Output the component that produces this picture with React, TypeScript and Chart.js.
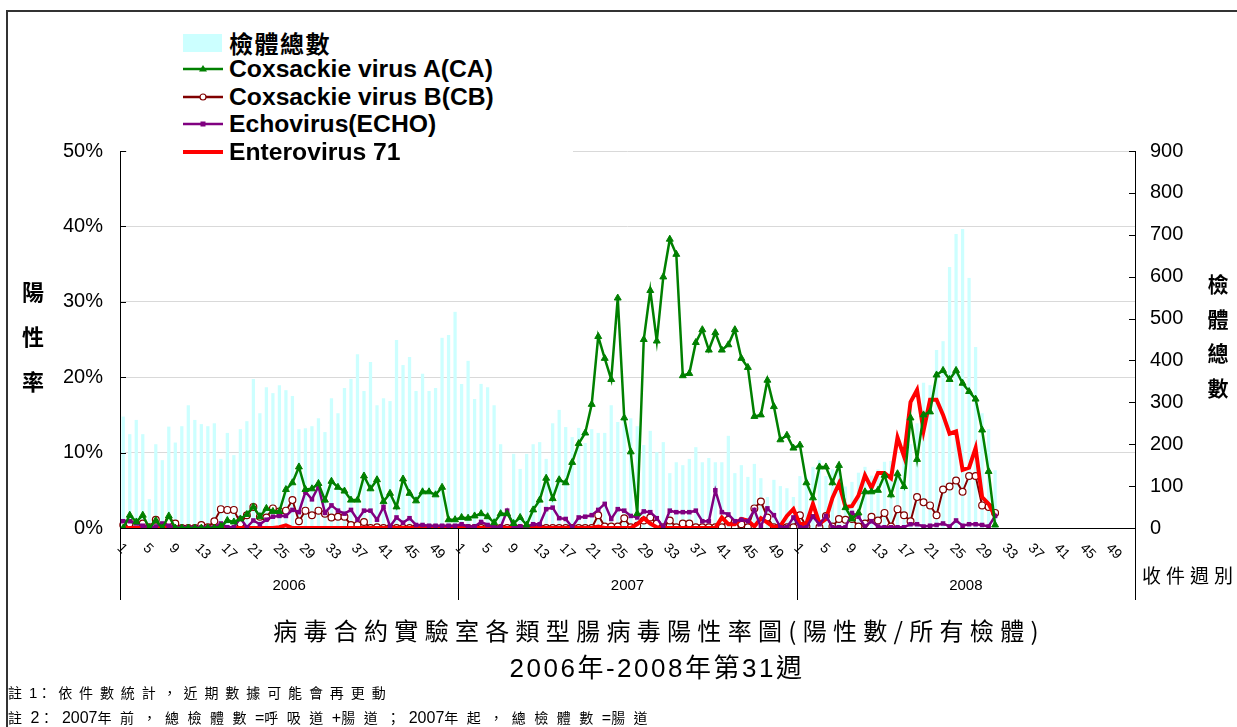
import React, { useEffect, useRef } from "react";
import { Chart, registerables } from "chart.js";

Chart.register(...registerables);

const YEARS = ["2006", "2007", "2008"];
const WEEKS_PER_YEAR = 52;
const WEEK_TICK_LABELS = ["1", "5", "9", "13", "17", "21", "25", "29", "33", "37", "41", "45", "49"];
const LEFT_TICKS = [0, 10, 20, 30, 40, 50];
const RIGHT_TICKS = [0, 100, 200, 300, 400, 500, 600, 700, 800, 900];

// 檢體總數 (specimens per week)
const TOTAL_2006 = [266, 224, 258, 224, 69, 200, 162, 242, 204, 243, 293, 258, 248, 243, 250, 165, 227, 174, 236, 255, 356, 274, 336, 322, 341, 329, 315, 236, 238, 243, 262, 229, 310, 274, 334, 356, 415, 327, 396, 293, 310, 303, 449, 389, 408, 327, 368, 327, 334, 454, 461, 516];
const TOTAL_2007 = [344, 399, 308, 344, 336, 293, 200, 0, 177, 141, 177, 200, 205, 165, 250, 282, 241, 217, 239, 203, 236, 227, 227, 293, 253, 262, 262, 243, 198, 232, 181, 205, 131, 157, 150, 165, 193, 157, 167, 157, 157, 220, 131, 150, 122, 153, 119, 74, 115, 100, 95, 74];
const TOTAL_2008 = [124, 120, 146, 162, 124, 140, 150, 99, 110, 132, 146, 125, 140, 158, 160, 131, 180, 200, 250, 347, 341, 425, 446, 623, 702, 714, 597, 432, 274, 236, 138];

// Coxsackie virus A (%)
const CA_2006 = [0, 1.7, 0.8, 1.7, 0, 1.0, 0, 1.6, 0, 0, 0, 0, 0, 0, 0, 0.2, 1.0, 0.8, 1.2, 1.8, 2.8, 1.5, 2.6, 2.2, 2.2, 5.1, 6.0, 8.1, 5.1, 5.2, 5.9, 3.7, 6.2, 5.4, 4.9, 3.7, 3.7, 6.9, 5.2, 6.4, 3.5, 4.6, 2.8, 6.5, 4.6, 3.6, 4.8, 4.8, 4.4, 5.4, 1.1, 1.1];
const CA_2007 = [1.4, 1.3, 1.6, 1.9, 1.5, 0.7, 1.9, 1.9, 0.6, 1.4, 0.4, 2.4, 3.7, 6.6, 3.9, 6.4, 6.0, 8.7, 11.2, 12.6, 16.4, 25.4, 22.5, 19.7, 30.5, 14.6, 10.1, 1.9, 25.0, 31.5, 24.8, 33.3, 38.3, 36.3, 20.2, 20.5, 24.6, 26.3, 23.6, 25.9, 23.6, 24.3, 26.3, 22.5, 21.3, 14.8, 15.0, 19.6, 16.1, 11.7, 12.3, 10.6];
const CA_2008 = [11.0, 6.0, 4.0, 8.1, 8.1, 6.0, 8.3, 2.7, 1.2, 2.0, 4.8, 4.8, 5.0, 7.0, 4.4, 7.2, 5.5, 14.6, 9.1, 15.0, 15.4, 20.3, 20.9, 19.7, 20.9, 19.2, 18.1, 17.1, 13.0, 7.5, 0.4];

// Coxsackie virus B (%)
const CB_2006 = [0.4, 0.6, 0.4, 0.6, 0.1, 1.1, 0, 0.9, 0.6, 0, 0, 0, 0.4, 0.1, 0.9, 2.5, 2.4, 2.4, 0.6, 1.7, 2.8, 1.5, 1.4, 2.6, 2.2, 2.3, 3.7, 0.9, 2.3, 1.7, 2.3, 1.9, 1.4, 1.5, 1.5, 0.4, 0.4, 0.8, 0, 0.1, 0, 0, 0, 0, 0, 0, 0, 0, 0, 0, 0, 0];
const CB_2007 = [0, 0, 0, 0, 0, 0, 0, 0, 0, 0, 0, 0, 0, 0, 0, 0, 0, 0, 0, 0, 0, 1.7, 0.2, 0.2, 0.2, 1.3, 0.1, 0.3, 1.0, 1.4, 0.6, 0.1, 1.0, 0.1, 0.6, 0.6, 0.1, 0.1, 0.1, 0.1, 0.1, 1.1, 0.1, 0.5, 0.1, 2.6, 3.5, 1.4, 0.1, 0.1, 0.1, 0.1];
const CB_2008 = [1.7, 0.2, 2.2, 0.1, 1.6, 0.2, 1.2, 1.1, 1.2, 0.2, 0.6, 1.5, 1.0, 2.0, 0.2, 2.5, 1.7, 0.9, 4.1, 3.4, 3.0, 1.7, 5.1, 5.5, 6.3, 4.8, 6.9, 6.9, 3.0, 2.8, 2.0];

// Echovirus (%)
const ECHO_2006 = [0.9, 0.9, 0.6, 0.3, 0.1, 0.2, 0.6, 0.3, 0.1, 0.1, 0.1, 0.1, 0.1, 0.1, 0.1, 0.6, 0.1, 0.1, 1.3, 0.1, 1.0, 0.5, 1.1, 1.5, 1.6, 1.6, 2.4, 2.1, 4.8, 3.8, 5.5, 2.0, 3.0, 2.3, 1.9, 2.4, 1.1, 2.3, 2.3, 1.1, 2.8, 0.2, 1.4, 0.7, 1.3, 0.4, 0.4, 0.3, 0.3, 0.3, 0.3, 0.3];
const ECHO_2007 = [0.5, 0.2, 0.2, 0.8, 0.4, 0.1, 0.1, 2.3, 0.1, 0.2, 0.2, 0.5, 0.5, 2.5, 2.7, 1.3, 1.2, 0.1, 1.4, 1.5, 1.7, 2.4, 3.2, 1.2, 2.5, 2.3, 1.6, 1.4, 2.2, 2.1, 1.3, 0.1, 2.3, 2.1, 2.1, 2.1, 2.3, 0.9, 0.9, 5.0, 2.1, 1.8, 0.9, 1.1, 0.9, 2.4, 0.1, 2.6, 1.7, 0.1, 0.1, 1.4];
const ECHO_2008 = [0.1, 0.1, 1.5, 0.5, 1.6, 0.1, 0.1, 0.1, 2.0, 1.5, 0.2, 0.9, 0.2, 0.1, 0.1, 0.1, 0.1, 0.5, 0.5, 0.2, 0.3, 0.4, 0.6, 0.2, 1.0, 0.3, 0.5, 0.5, 0.4, 0.2, 1.6];

// Enterovirus 71 (%)
const EV71_2006 = [0, 0, 0, 0, 0, 0, 0, 0, 0, 0, 0, 0, 0, 0, 0, 0, 0, 0, 0, 0, 0, 0, 0, 0, 0.1, 0.35, 0, 0, 0, 0, 0, 0, 0, 0, 0, 0, 0, 0, 0, 0, 0, 0, 0, 0, 0, 0, 0, 0, 0, 0, 0, 0];
const EV71_2007 = [0, 0, 0, 0, 0, 0, 0, 0, 0, 0, 0, 0, 0, 0, 0, 0, 0, 0, 0, 0, 0, 0.2, 0, 0, 0, 0, 0, 0.5, 1.3, 0.6, 0.1, 0, 0, 0, 0, 0, 0, 0, 0, 0, 1.4, 0.5, 0.5, 1.2, 1.0, 0.2, 1.3, 0.7, 0.1, 0.3, 1.6, 2.5];
const EV71_2008 = [0.5, 0.6, 3.2, 0.6, 1.2, 4.0, 5.9, 2.8, 2.9, 4.3, 7.0, 5.3, 7.3, 7.3, 6.6, 12.0, 9.5, 16.7, 18.3, 12.9, 17.0, 17.0, 15.0, 12.5, 12.8, 7.7, 8.0, 10.6, 4.1, 3.2, 1.5];

const C = {
  bar: "#CCFFFF",
  ca: "#008000",
  cb: "#800000",
  echo: "#800080",
  ev71: "#FF0000",
};

const LATIN = '"Liberation Sans", Arial, sans-serif';
const CJK = '"Noto Sans CJK TC", "Noto Sans CJK SC", sans-serif';

function padYear(arr: number[]): (number | null)[] {
  const out: (number | null)[] = arr.slice();
  while (out.length < WEEKS_PER_YEAR) out.push(null);
  return out;
}

function mixed(text: string, cjkSize: number, cjkSpacing: number, latinSize: number, latinSpacing = 0) {
  return text
    .split(/([\x20-\x7E]+)/)
    .filter((p) => p.length > 0)
    .map((part, i) =>
      /^[\x20-\x7E]+$/.test(part) ? (
        <span key={i} style={{ fontFamily: LATIN, fontSize: latinSize, letterSpacing: latinSpacing }}>
          {part}
        </span>
      ) : (
        <span key={i} style={{ fontFamily: CJK, fontSize: cjkSize, letterSpacing: cjkSpacing }}>
          {part}
        </span>
      )
    );
}

export default function App() {
  const ref = useRef<HTMLCanvasElement>(null);

  useEffect(() => {
    if (!ref.current) return;
    const labels: string[] = [];
    YEARS.forEach((y) => {
      for (let w = 1; w <= WEEKS_PER_YEAR; w++) labels.push(`${y}-${w}`);
    });
    const join = (a: number[], b: number[], c: number[]) => [...padYear(a), ...padYear(b), ...padYear(c)];

    const axisPlugin = {
      id: "customAxes",
      afterDraw(chart: any) {
        const { ctx, chartArea } = chart;
        const { left, right, top, bottom } = chartArea;
        const n = labels.length;
        const cw = (right - left) / n;
        const yS = chart.scales.y;
        const y1S = chart.scales.y1;
        const boxBottom = 600;
        ctx.save();
        ctx.strokeStyle = "#000";
        ctx.lineWidth = 1;
        const line = (x1: number, y1: number, x2: number, y2: number) => {
          ctx.beginPath();
          ctx.moveTo(x1, y1);
          ctx.lineTo(x2, y2);
          ctx.stroke();
        };
        line(left, bottom + 0.5, right, bottom + 0.5);
        line(left + 0.5, top, left + 0.5, boxBottom);
        line(right + 0.5, top, right + 0.5, boxBottom);
        for (let k = 1; k < YEARS.length; k++) {
          const xs = Math.round(left + k * WEEKS_PER_YEAR * cw) + 0.5;
          line(xs, bottom, xs, boxBottom);
        }
        LEFT_TICKS.forEach((v) => {
          const y = Math.round(yS.getPixelForValue(v)) + 0.5;
          line(left, y, left + 6, y);
        });
        RIGHT_TICKS.forEach((v) => {
          const y = Math.round(y1S.getPixelForValue(v)) + 0.5;
          line(right - 6, y, right, y);
        });
        ctx.fillStyle = "#000";
        ctx.font = `14px ${LATIN}`;
        ctx.textAlign = "left";
        ctx.textBaseline = "middle";
        YEARS.forEach((_, yi) => {
          WEEK_TICK_LABELS.forEach((lab) => {
            const w = parseInt(lab, 10);
            const idx = yi * WEEKS_PER_YEAR + (w - 1);
            const cx = left + (idx + 0.5) * cw;
            ctx.save();
            ctx.translate(cx - 4, bottom + 18);
            ctx.rotate(Math.PI / 4);
            ctx.fillText(lab, 0, 0);
            ctx.restore();
          });
        });
        ctx.font = `15px ${LATIN}`;
        ctx.textAlign = "center";
        YEARS.forEach((y, yi) => {
          const cx = left + (yi + 0.5) * WEEKS_PER_YEAR * cw;
          ctx.fillText(y, cx, 586);
        });
        ctx.restore();
      },
    };

    const chart = new Chart(ref.current, {
      type: "bar",
      data: {
        labels,
        datasets: [
          {
            type: "line",
            label: "Coxsackie virus A(CA)",
            data: join(CA_2006, CA_2007, CA_2008),
            yAxisID: "y",
            borderColor: C.ca,
            backgroundColor: C.ca,
            borderWidth: 2.5,
            pointStyle: "triangle",
            pointRadius: 4,
            pointBackgroundColor: C.ca,
            pointBorderColor: C.ca,
            pointBorderWidth: 1,
            tension: 0,
            order: 1,
          } as any,
          {
            type: "line",
            label: "Echovirus(ECHO)",
            data: join(ECHO_2006, ECHO_2007, ECHO_2008),
            yAxisID: "y",
            borderColor: C.echo,
            backgroundColor: C.echo,
            borderWidth: 2.5,
            pointStyle: "rect",
            pointRadius: 3.2,
            pointBackgroundColor: C.echo,
            pointBorderColor: C.echo,
            pointBorderWidth: 0,
            tension: 0,
            order: 2,
          } as any,
          {
            type: "line",
            label: "Enterovirus 71",
            data: join(EV71_2006, EV71_2007, EV71_2008),
            yAxisID: "y",
            borderColor: C.ev71,
            backgroundColor: C.ev71,
            borderWidth: 4,
            pointRadius: 0,
            tension: 0,
            order: 3,
          } as any,
          {
            type: "line",
            label: "Coxsackie virus B(CB)",
            data: join(CB_2006, CB_2007, CB_2008),
            yAxisID: "y",
            borderColor: C.cb,
            backgroundColor: "#ffffff",
            borderWidth: 2,
            pointStyle: "circle",
            pointRadius: 3.4,
            pointBackgroundColor: "#ffffff",
            pointBorderColor: C.cb,
            pointBorderWidth: 1.2,
            tension: 0,
            order: 4,
          } as any,
          {
            type: "bar",
            label: "檢體總數",
            data: join(TOTAL_2006, TOTAL_2007, TOTAL_2008),
            yAxisID: "y1",
            backgroundColor: C.bar,
            borderWidth: 0,
            barPercentage: 0.5,
            categoryPercentage: 1,
            order: 5,
          } as any,
        ],
      },
      options: {
        responsive: false,
        animation: false,
        devicePixelRatio: 1,
        layout: { padding: { top: 151, left: 0, right: 0, bottom: 0 } },
        plugins: { legend: { display: false }, tooltip: { enabled: false }, title: { display: false } },
        scales: {
          x: {
            type: "category",
            offset: true,
            grid: { display: false, drawTicks: false },
            border: { display: false },
            ticks: { display: false },
            afterFit: (s: any) => {
              s.height = 199;
            },
          },
          y: {
            position: "left",
            min: 0,
            max: 50,
            afterBuildTicks: (s: any) => {
              s.ticks = LEFT_TICKS.map((v) => ({ value: v }));
            },
            grid: {
              color: (c: any) => (c.tick && c.tick.value === 0 ? "rgba(0,0,0,0)" : "#d9d9d9"),
              lineWidth: 1,
              drawTicks: false,
            },
            border: { display: false },
            ticks: {
              padding: 17,
              color: "#000",
              font: { family: LATIN, size: 20 },
              callback: (v: any) => `${v}%`,
            },
            afterFit: (s: any) => {
              s.width = 120;
            },
          },
          y1: {
            position: "right",
            min: 0,
            max: 900,
            afterBuildTicks: (s: any) => {
              s.ticks = RIGHT_TICKS.map((v) => ({ value: v }));
            },
            grid: { display: false, drawTicks: false },
            border: { display: false },
            ticks: {
              padding: 15,
              color: "#000",
              font: { family: LATIN, size: 20 },
            },
            afterFit: (s: any) => {
              s.width = 102;
            },
          },
        },
      } as any,
      plugins: [axisPlugin],
    });
    return () => chart.destroy();
  }, []);

  const legendRows = [
    { cy: 43, kind: "bar", text: "檢體總數", cjk: true },
    { cy: 69, kind: "ca", text: "Coxsackie virus A(CA)" },
    { cy: 97, kind: "cb", text: "Coxsackie virus B(CB)" },
    { cy: 124, kind: "echo", text: "Echovirus(ECHO)" },
    { cy: 152, kind: "ev71", text: "Enterovirus 71" },
  ];

  const swatch = (kind: string) => {
    if (kind === "bar") return <rect x={0} y={1} width={39} height={18} fill={C.bar} />;
    if (kind === "ca")
      return (
        <g>
          <line x1={0} y1={10} x2={40} y2={10} stroke={C.ca} strokeWidth={2.5} />
          <polygon points="20,6 24,12.5 16,12.5" fill={C.ca} />
        </g>
      );
    if (kind === "cb")
      return (
        <g>
          <line x1={0} y1={10} x2={40} y2={10} stroke={C.cb} strokeWidth={2.5} />
          <circle cx={20} cy={10} r={3} fill="#fff" stroke={C.cb} strokeWidth={1.2} />
        </g>
      );
    if (kind === "echo")
      return (
        <g>
          <line x1={0} y1={10} x2={40} y2={10} stroke={C.echo} strokeWidth={2.5} />
          <rect x={17.5} y={7.5} width={5} height={5} fill={C.echo} />
        </g>
      );
    return <line x1={0} y1={10} x2={40} y2={10} stroke={C.ev71} strokeWidth={4} />;
  };

  const abs = (o: any): React.CSSProperties => ({ position: "absolute", whiteSpace: "nowrap", color: "#000", ...o });

  return (
    <div style={{ position: "fixed", left: 0, top: 0, width: 1237, height: 727, background: "#fff", overflow: "hidden" }}>
      <canvas ref={ref} width={1237} height={727} style={{ position: "absolute", left: 0, top: 0, width: 1237, height: 727 }} />
      {/* outer frame */}
      <div style={abs({ left: 6, top: 10, width: 1300, height: 800, borderTop: "2px solid #333", borderLeft: "2px solid #333" })} />
      {/* legend */}
      <div style={abs({ left: 127, top: 24, width: 446, height: 140, background: "#fff" })} />
      {legendRows.map((r) => (
        <React.Fragment key={r.kind}>
          <svg style={abs({ left: 183, top: r.cy - 10 })} width={40} height={20}>
            {swatch(r.kind)}
          </svg>
          <div
            style={abs({
              left: 229,
              top: r.cy - 14,
              height: 28,
              lineHeight: "28px",
              fontFamily: r.cjk ? CJK : LATIN,
              fontWeight: "bold",
              fontSize: r.cjk ? 24 : 24.7,
              letterSpacing: r.cjk ? 1.5 : 0,
            })}
          >
            {r.text}
          </div>
        </React.Fragment>
      ))}
      {/* left axis title */}
      {["陽", "性", "率"].map((ch, i) => (
        <div key={ch} style={abs({ left: 33, top: 290 + i * 45, transform: "translate(-50%,-50%)", fontFamily: CJK, fontWeight: "bold", fontSize: 22, lineHeight: "24px" })}>
          {ch}
        </div>
      ))}
      {/* right axis title */}
      {["檢", "體", "總", "數"].map((ch, i) => (
        <div key={ch} style={abs({ left: 1218, top: 283 + i * 34.5, transform: "translate(-50%,-50%)", fontFamily: CJK, fontWeight: "bold", fontSize: 21, lineHeight: "24px" })}>
          {ch}
        </div>
      ))}
      {/* x axis title */}
      <div style={abs({ left: 1142, top: 575, transform: "translateY(-50%)", fontFamily: CJK, fontSize: 19, letterSpacing: 5, lineHeight: "24px" })}>收件週別</div>
      {/* chart titles */}
      <div style={abs({ left: 659, top: 630, transform: "translate(-50%,-50%)", fontFamily: CJK, fontSize: 24, letterSpacing: 6.3, lineHeight: "30px" })}>
        病毒合約實驗室各類型腸病毒陽性率圖(陽性數/所有檢體)
      </div>
      <div style={abs({ left: 657, top: 668, transform: "translate(-50%,-50%)", fontFamily: `${LATIN.split(",")[0]}, ${CJK}`, fontSize: 26, letterSpacing: 2.5, lineHeight: "30px" })}>
        2006年-2008年第31週
      </div>
      {/* notes */}
      <div style={abs({ left: 8, top: 692, transform: "translateY(-50%)", lineHeight: "18px" })}>
        {mixed("註1：依件數統計，近期數據可能會再更動", 14, 6.9, 15)}
      </div>
      <div style={abs({ left: 8, top: 717, transform: "translateY(-50%)", lineHeight: "18px" })}>
        {mixed("註2：2007年前，總檢體數=呼吸道+腸道；2007年起，總檢體數=腸道", 14, 8.5, 16)}
      </div>
    </div>
  );
}
